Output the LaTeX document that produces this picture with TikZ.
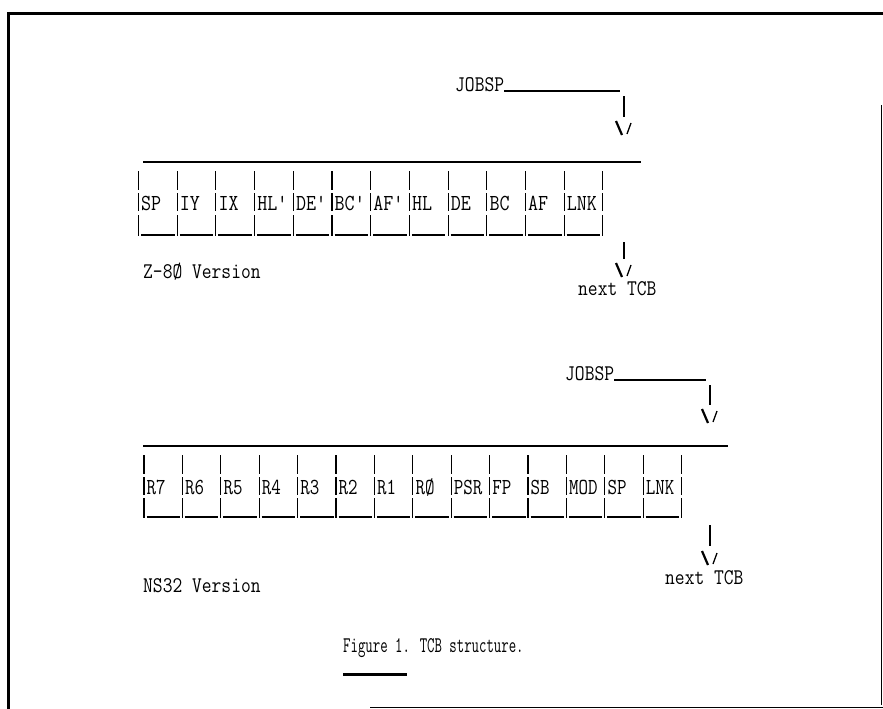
\documentclass[tikz,border=0pt]{standalone}
\usepackage{fontspec}
\usepackage{graphicx}
\usetikzlibrary{calc}
\newcommand\typew[1]{\ttfamily\fontsize{#1}{#1}\selectfont\addfontfeatures{FakeBold=0.8}}
\tikzset{
  lbl/.style={font=\typew{20}, inner sep=0pt, anchor=base west},
  captext/.style={font=\typew{20}, inner sep=0pt, anchor=base west},
  zcell/.style={font=\typew{20.5}, inner sep=0pt, anchor=base west},
  ncell/.style={font=\typew{20.5}, inner sep=0pt, anchor=base west},
  rule/.style={line width=1.6pt},
  bar/.style={line width=1.1pt},
  backstroke/.style={line width=2.2pt},
  fwdstroke/.style={line width=1.3pt}
}
\newcommand\sx[2]{\scalebox{#1}[1.12]{#2}}
\newcommand\veeat[1]{%
  \draw[backstroke] ($(#1)+(-8,-7)$) -- ($(#1)+(-2,7)$);
  \draw[fwdstroke] ($(#1)+(7,-5)$) -- ($(#1)+(3,6)$);}
\begin{document}
\begin{tikzpicture}[x=1pt,y=-1pt]
\useasboundingbox (0,0) rectangle (883,709);
% frame
\draw[line width=3pt] (8,13.5) -- (883,13.5);
\draw[line width=2.5pt] (8.5,12) -- (8.5,709);
\draw[line width=0.8pt] (881.5,105) -- (881.5,705);
\draw[line width=0.8pt] (370,707.5) -- (883,707.5);

% ---------------- Z-80 ----------------
\node[lbl] (jobz) at (455,91) {\sx{0.95}{JOBSP}};
\coordinate (jzu) at (620,91);
\draw[bar] (jobz.base east) -- (jzu);
\coordinate (jz1) at (624,96);
\coordinate (jz2) at (624,117);
\draw[bar] (jz1) -- (jz2);
\coordinate (vz1) at (624,128);
\veeat{vz1}
\coordinate (zl) at (143,162);
\coordinate (zr) at (641,162);
\draw[rule] (zl) -- (zr);
\foreach \k in {0,...,12}{
  \pgfmathsetmacro\xx{138.5+\k*38.7}
  \draw[bar] (\xx,171) -- (\xx,190) (\xx,193) -- (\xx,211) (\xx,215) -- (\xx,236);
}
\foreach \lab [count=\i from 0] in {SP,IY,IX,HL',DE',BC',AF',HL,DE,BC,AF,LNK}{
  \pgfmathsetmacro\xx{138.5+\i*38.7}
  \node[zcell] (z\i) at (\xx+2.5,210) {\sx{0.95}{\lab}};
  \draw[bar] (\xx+2.5,235) -- (\xx+36,235);
}
\coordinate (nz1) at (624,242);
\coordinate (nz2) at (624,259);
\draw[bar] (nz1) -- (nz2);
\coordinate (vz2) at (624,270);
\veeat{vz2}
\node[lbl] (nextz) at (578,295) {\sx{0.95}{next TCB}};
\node[lbl] (verz) at (143,278) {\sx{0.95}{Z-8Ø Version}};

% ---------------- NS32 ----------------
\node[lbl] (jobn) at (565,380) {\sx{0.95}{JOBSP}};
\coordinate (jnu) at (706,380);
\draw[bar] (jobn.base east) -- (jnu);
\coordinate (jn1) at (710,385);
\coordinate (jn2) at (710,405);
\draw[bar] (jn1) -- (jn2);
\coordinate (vn1) at (710,416);
\veeat{vn1}
\coordinate (nl) at (143,446);
\coordinate (nr) at (728,446);
\draw[rule] (nl) -- (nr);
\foreach \k in {0,...,14}{
  \pgfmathsetmacro\xx{144+\k*38.4}
  \draw[bar] (\xx,455) -- (\xx,474) (\xx,477) -- (\xx,495) (\xx,498) -- (\xx,518);
}
\foreach \lab [count=\i from 0] in {R7,R6,R5,R4,R3,R2,R1,RØ,PSR,FP,SB,MOD,SP,LNK}{
  \pgfmathsetmacro\xx{144+\i*38.4}
  \node[ncell] (n\i) at (\xx+2.5,494) {\sx{0.9}{\lab}};
  \draw[bar] (\xx+2.5,517) -- (\xx+36,517);
}
\coordinate (nn1) at (710,525);
\coordinate (nn2) at (710,546);
\draw[bar] (nn1) -- (nn2);
\coordinate (vn2) at (710,558);
\veeat{vn2}
\node[lbl] (nextn) at (665,584) {\sx{0.95}{next TCB}};
\node[lbl] (vern) at (143,592) {\sx{0.95}{NS32 Version}};

% caption
\node[captext] (caption) at (343,652) {\sx{0.72}{Figure 1. TCB structure.}};
\coordinate (ul1) at (343,674);
\coordinate (ul2) at (407,674);
\draw[line width=3pt] (ul1) -- (ul2);
\end{tikzpicture}
\end{document}
